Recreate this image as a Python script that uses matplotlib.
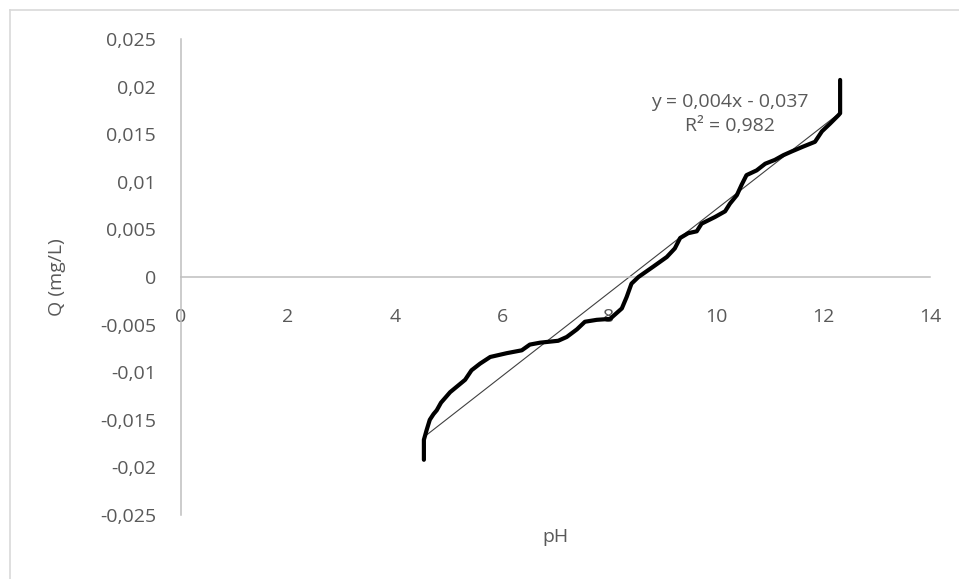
import matplotlib
matplotlib.use("Agg")
import matplotlib.pyplot as plt
from matplotlib.lines import Line2D
import numpy as np

# Titration data: pH versus charge Q (mg/L)
ph = [4.54, 4.54, 4.54, 4.54, 4.54, 4.59, 4.65, 4.72, 4.78, 4.86, 5.03, 5.31,
      5.43, 5.59, 5.78, 6.09, 6.37, 6.52, 6.71, 7.05, 7.21, 7.40, 7.55, 7.77,
      8.02, 8.24, 8.33, 8.42, 8.55, 8.83, 9.08, 9.23, 9.33, 9.48, 9.64, 9.73,
      9.98, 10.17, 10.26, 10.39, 10.48, 10.57, 10.76, 10.92, 11.10, 11.26,
      11.42, 11.63, 11.85, 11.98, 12.13, 12.29, 12.32, 12.32, 12.32, 12.32,
      12.32]
q = [-0.0192, -0.0187, -0.0182, -0.0176, -0.0171, -0.0161, -0.0150, -0.0144,
     -0.0140, -0.0132, -0.0121, -0.0108, -0.0098, -0.0091, -0.0084, -0.0080,
     -0.0077, -0.0071, -0.0069, -0.0067, -0.0063, -0.0055, -0.0047, -0.0045,
     -0.0044, -0.0033, -0.0021, -0.0007, 0.0000, 0.0011, 0.0021, 0.0030,
     0.0041, 0.0046, 0.0048, 0.0056, 0.0063, 0.0069, 0.0077, 0.0086, 0.0097,
     0.0107, 0.0112, 0.0119, 0.0123, 0.0128, 0.0132, 0.0137, 0.0142, 0.0153,
     0.0161, 0.0170, 0.0172, 0.0179, 0.0186, 0.0196, 0.0207]

# Linear trend line: Q = slope * pH + intercept
trend_slope = 0.00438
trend_intercept = -0.0367
trend_r2 = 0.982

x_ticks = [0, 2, 4, 6, 8, 10, 12, 14]
x_tick_labels = ["0", "2", "4", "6", "8", "10", "12", "14"]
y_ticks = [0.025, 0.02, 0.015, 0.01, 0.005, 0, -0.005, -0.01, -0.015, -0.02, -0.025]
y_tick_labels = ["0,025", "0,02", "0,015", "0,01", "0,005", "0",
                 "-0,005", "-0,01", "-0,015", "-0,02", "-0,025"]

plt.rcParams["font.family"] = ["Open Sans", "DejaVu Sans"]
TEXT = "#595959"
AXIS = "#bfbfbf"

fig = plt.figure(figsize=(9.59, 5.79), dpi=100)
ax = fig.add_axes([181 / 959, 64 / 579, 749 / 959, 476 / 579])

x = np.array(ph)
y = np.array(q)

xt = np.array([x.min(), x.max()])
ax.plot(xt, trend_slope * xt + trend_intercept, color="#404040", lw=0.8,
        zorder=2)

ax.plot(x, y, color="black", lw=3.0, solid_joinstyle="round",
        solid_capstyle="round", zorder=3)

ax.set_xlim(0, 14)
ax.set_ylim(-0.025, 0.025)

for s in ("top", "right"):
    ax.spines[s].set_visible(False)
ax.spines["bottom"].set_position(("data", 0))
for s in ("left", "bottom"):
    ax.spines[s].set_color(AXIS)
    ax.spines[s].set_linewidth(1.1)

ax.set_xticks(x_ticks)
ax.set_xticklabels(x_tick_labels)
ax.set_yticks(y_ticks)
ax.set_yticklabels(y_tick_labels)
ax.tick_params(axis="x", length=0, pad=22, labelsize=14, labelcolor=TEXT)
ax.tick_params(axis="y", length=0, pad=18, labelsize=14, labelcolor=TEXT)

ax.set_xlabel("pH", fontsize=14, color=TEXT)
ax.xaxis.set_label_coords(0.5, -0.046)
ax.xaxis.label.set_va("center")
ax.set_ylabel("Q (mg/L)", fontsize=14, color=TEXT)
ax.yaxis.set_label_coords(-0.1656, 0.5)
ax.yaxis.label.set_va("center")

def fmt(v):
    return f"{abs(v):.3f}".replace(".", ",")

sign = "-" if trend_intercept < 0 else "+"
eq = (f"y = {fmt(trend_slope)}x {sign} {fmt(trend_intercept)}\n"
      f"R² = {fmt(trend_r2)}")
lx, ly = ax.transData.inverted().transform((730, 579 - 114))
ax.text(lx, ly, eq, ha="center", va="center", fontsize=14, color=TEXT,
        linespacing=1.4)

# Chart-area border (top and left edges)
fig.add_artist(Line2D([9.5 / 959, 1.0], [1 - 9.5 / 579, 1 - 9.5 / 579],
                      transform=fig.transFigure, color="#d9d9d9", lw=1.2))
fig.add_artist(Line2D([9.5 / 959, 9.5 / 959], [0.0, 1 - 9.5 / 579],
                      transform=fig.transFigure, color="#d9d9d9", lw=1.2))

fig.savefig("out.png", dpi=100)
